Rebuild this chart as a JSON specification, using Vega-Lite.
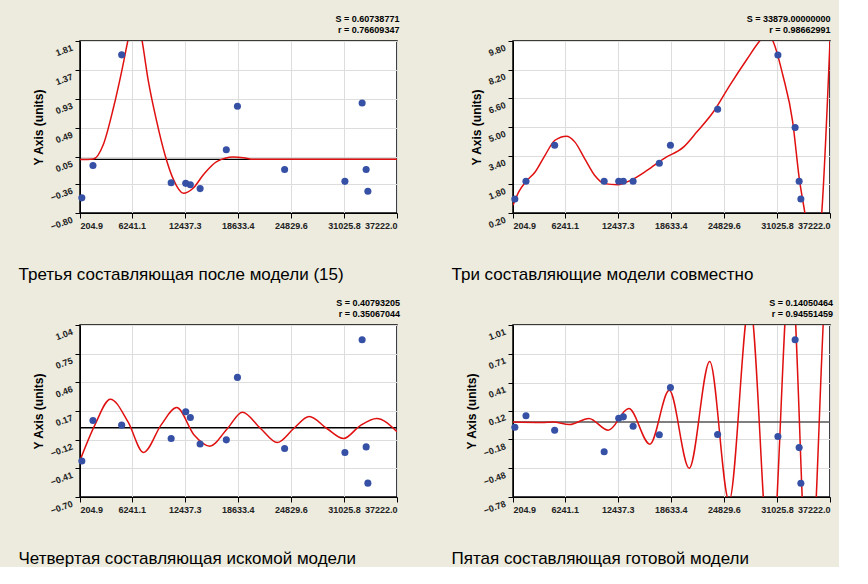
{
  "$schema": "https://vega.github.io/schema/vega-lite/v6.json",
  "background": "#ecebde",
  "padding": {"left": 17, "top": 13, "right": 5, "bottom": 0},
  "datasets": {
    "p1": [
      {"x": 420, "y": -0.57}, {"x": 1720, "y": -0.08}, {"x": 5070, "y": 1.6}, {"x": 10850, "y": -0.34},
      {"x": 12550, "y": -0.35}, {"x": 13090, "y": -0.37}, {"x": 14230, "y": -0.43}, {"x": 17290, "y": 0.16},
      {"x": 18590, "y": 0.82}, {"x": 24100, "y": -0.14}, {"x": 31140, "y": -0.32}, {"x": 33150, "y": 0.87},
      {"x": 33620, "y": -0.14}, {"x": 33820, "y": -0.47}
    ],
    "c1": [
      {"x": 205, "y": 0.01}, {"x": 1762, "y": 0.02}, {"x": 2930, "y": 0.24}, {"x": 4098, "y": 0.79},
      {"x": 5071, "y": 1.35}, {"x": 5850, "y": 1.85}, {"x": 6630, "y": 2.3}, {"x": 7409, "y": 1.85},
      {"x": 8187, "y": 1.2}, {"x": 9160, "y": 0.59}, {"x": 10134, "y": 0.08}, {"x": 11107, "y": -0.29},
      {"x": 12275, "y": -0.5}, {"x": 13443, "y": -0.42}, {"x": 14611, "y": -0.22}, {"x": 16169, "y": -0.02},
      {"x": 18115, "y": 0.05}, {"x": 19283, "y": 0.04}, {"x": 20451, "y": 0.015}, {"x": 37222, "y": 0.015}
    ],
    "p2": [
      {"x": 420, "y": 0.98}, {"x": 1720, "y": 1.97}, {"x": 5070, "y": 3.98}, {"x": 10850, "y": 1.97},
      {"x": 12550, "y": 1.97}, {"x": 13090, "y": 1.97}, {"x": 14230, "y": 1.97}, {"x": 17290, "y": 2.98},
      {"x": 18590, "y": 3.98}, {"x": 24100, "y": 5.99}, {"x": 31140, "y": 9.02}, {"x": 33150, "y": 4.97},
      {"x": 33620, "y": 1.97}, {"x": 33820, "y": 0.98}
    ],
    "c2": [
      {"x": 205, "y": 0.63}, {"x": 860, "y": 1.37}, {"x": 1747, "y": 1.97}, {"x": 2788, "y": 2.49},
      {"x": 3945, "y": 3.42}, {"x": 5102, "y": 4.26}, {"x": 6452, "y": 4.49}, {"x": 7416, "y": 4.17},
      {"x": 8573, "y": 3.24}, {"x": 9730, "y": 2.31}, {"x": 10886, "y": 1.84}, {"x": 12429, "y": 1.78},
      {"x": 13971, "y": 2.03}, {"x": 15899, "y": 2.59}, {"x": 17827, "y": 3.24}, {"x": 20141, "y": 3.89},
      {"x": 21683, "y": 4.73}, {"x": 23611, "y": 5.85}, {"x": 25539, "y": 7.34}, {"x": 27467, "y": 8.74},
      {"x": 29009, "y": 9.8}, {"x": 29780, "y": 10.2}, {"x": 30552, "y": 9.8}, {"x": 31709, "y": 7.9},
      {"x": 32865, "y": 5.29}, {"x": 33637, "y": 2.12}, {"x": 34292, "y": 0.2}, {"x": 35179, "y": -2.4},
      {"x": 35758, "y": -2.4}, {"x": 36259, "y": 0.2}, {"x": 37222, "y": 9.8}
    ],
    "p3": [
      {"x": 420, "y": -0.335}, {"x": 1720, "y": 0.074}, {"x": 5070, "y": 0.027}, {"x": 10850, "y": -0.109},
      {"x": 12550, "y": 0.162}, {"x": 13090, "y": 0.104}, {"x": 14230, "y": -0.163}, {"x": 17290, "y": -0.122},
      {"x": 18590, "y": 0.51}, {"x": 24100, "y": -0.21}, {"x": 31140, "y": -0.25}, {"x": 33150, "y": 0.89},
      {"x": 33620, "y": -0.193}, {"x": 33820, "y": -0.56}
    ],
    "c3": [
      {"x": 205, "y": -0.33}, {"x": 1946, "y": 0.03}, {"x": 3752, "y": 0.29}, {"x": 5816, "y": 0.06},
      {"x": 7621, "y": -0.25}, {"x": 9685, "y": 0.03}, {"x": 11491, "y": 0.205}, {"x": 13554, "y": -0.075},
      {"x": 15360, "y": -0.186}, {"x": 17424, "y": -0.007}, {"x": 19165, "y": 0.158}, {"x": 21293, "y": -0.007},
      {"x": 23228, "y": -0.149}, {"x": 25163, "y": -0.007}, {"x": 26968, "y": 0.114}, {"x": 29032, "y": -0.007},
      {"x": 30967, "y": -0.109}, {"x": 32902, "y": 0.02}, {"x": 34837, "y": 0.094}, {"x": 37222, "y": -0.04}
    ],
    "p4": [
      {"x": 420, "y": -0.054}, {"x": 1720, "y": 0.065}, {"x": 5070, "y": -0.085}, {"x": 10850, "y": -0.31},
      {"x": 12550, "y": 0.04}, {"x": 13090, "y": 0.054}, {"x": 14230, "y": -0.043}, {"x": 17290, "y": -0.133},
      {"x": 18590, "y": 0.36}, {"x": 24100, "y": -0.13}, {"x": 31140, "y": -0.15}, {"x": 33150, "y": 0.857},
      {"x": 33620, "y": -0.266}, {"x": 33820, "y": -0.637}
    ],
    "c4": [
      {"x": 205, "y": 0.0}, {"x": 3570, "y": -0.005}, {"x": 4864, "y": 0.0}, {"x": 6805, "y": -0.026},
      {"x": 9070, "y": 0.037}, {"x": 11335, "y": -0.085}, {"x": 13729, "y": 0.14}, {"x": 16188, "y": -0.23},
      {"x": 18453, "y": 0.33}, {"x": 20783, "y": -0.48}, {"x": 23177, "y": 0.63}, {"x": 25442, "y": -0.82},
      {"x": 27836, "y": 1.25}, {"x": 30295, "y": -1.6}, {"x": 32625, "y": 1.7}, {"x": 34760, "y": -1.9},
      {"x": 37025, "y": 1.9}, {"x": 37222, "y": 2.0}
    ]
  },
  "columns": 2,
  "spacing": {"row": 14, "column": 49},
  "concat": [
    {
      "width": 317, "height": 172,
      "title": {"text": "S = 0.60738771", "subtitle": "r = 0.76609347"},
      "encoding": {
        "x": {"field": "x", "type": "quantitative", "scale": {"domain": [204.9, 37222]},
              "axis": {"values": [204.9, 6241.1, 12437.3, 18633.4, 24829.6, 31025.8, 37222.0], "format": ".1f", "title": "Третья составляющая после модели (15)"}},
        "y": {"field": "y", "type": "quantitative", "scale": {"domain": [-0.8, 1.81], "zero": false, "nice": false},
              "axis": {"values": [-0.8, -0.36, 0.05, 0.49, 0.93, 1.37, 1.81], "format": ".2f", "title": "Y Axis (units)"}}
      },
      "layer": [
        {"data": {"values": [{"x": 204.9, "y": 0.015}, {"x": 37222, "y": 0.015}]}, "mark": {"type": "line", "color": "black", "strokeWidth": 1.2}},
        {"data": {"name": "c1"}, "mark": {"type": "line", "color": "#e01010", "strokeWidth": 1.5, "interpolate": "monotone", "clip": true}},
        {"data": {"name": "p1"}, "mark": {"type": "circle", "color": "#3550a5", "size": 50, "opacity": 1}}
      ]
    },
    {
      "width": 317, "height": 172,
      "title": {"text": "S = 33879.00000000", "subtitle": "r = 0.98662991"},
      "encoding": {
        "x": {"field": "x", "type": "quantitative", "scale": {"domain": [204.9, 37222]},
              "axis": {"values": [204.9, 6241.1, 12437.3, 18633.4, 24829.6, 31025.8, 37222.0], "format": ".1f", "title": "Три составляющие модели совместно"}},
        "y": {"field": "y", "type": "quantitative", "scale": {"domain": [0.2, 9.8], "zero": false, "nice": false},
              "axis": {"values": [0.2, 1.8, 3.4, 5.0, 6.6, 8.2, 9.8], "format": ".2f", "title": "Y Axis (units)"}}
      },
      "layer": [
        {"data": {"name": "c2"}, "mark": {"type": "line", "color": "#e01010", "strokeWidth": 1.5, "interpolate": "monotone", "clip": true}},
        {"data": {"name": "p2"}, "mark": {"type": "circle", "color": "#3550a5", "size": 50, "opacity": 1}}
      ]
    },
    {
      "width": 317, "height": 172,
      "title": {"text": "S = 0.40793205", "subtitle": "r = 0.35067044"},
      "encoding": {
        "x": {"field": "x", "type": "quantitative", "scale": {"domain": [204.9, 37222]},
              "axis": {"values": [204.9, 6241.1, 12437.3, 18633.4, 24829.6, 31025.8, 37222.0], "format": ".1f", "title": "Четвертая составляющая искомой модели"}},
        "y": {"field": "y", "type": "quantitative", "scale": {"domain": [-0.7, 1.04], "zero": false, "nice": false},
              "axis": {"values": [-0.7, -0.41, -0.12, 0.17, 0.46, 0.75, 1.04], "format": ".2f", "title": "Y Axis (units)"}}
      },
      "layer": [
        {"data": {"values": [{"x": 204.9, "y": 0.0}, {"x": 37222, "y": 0.0}]}, "mark": {"type": "line", "color": "black", "strokeWidth": 1.5}},
        {"data": {"name": "c3"}, "mark": {"type": "line", "color": "#e01010", "strokeWidth": 1.5, "interpolate": "monotone", "clip": true}},
        {"data": {"name": "p3"}, "mark": {"type": "circle", "color": "#3550a5", "size": 50, "opacity": 1}}
      ]
    },
    {
      "width": 317, "height": 172,
      "title": {"text": "S = 0.14050464", "subtitle": "r = 0.94551459"},
      "encoding": {
        "x": {"field": "x", "type": "quantitative", "scale": {"domain": [204.9, 37222]},
              "axis": {"values": [204.9, 6241.1, 12437.3, 18633.4, 24829.6, 31025.8, 37222.0], "format": ".1f", "title": "Пятая составляющая готовой модели"}},
        "y": {"field": "y", "type": "quantitative", "scale": {"domain": [-0.78, 1.01], "zero": false, "nice": false},
              "axis": {"values": [-0.78, -0.48, -0.18, 0.12, 0.41, 0.71, 1.01], "format": ".2f", "title": "Y Axis (units)"}}
      },
      "layer": [
        {"data": {"values": [{"x": 204.9, "y": 0.0}, {"x": 37222, "y": 0.0}]}, "mark": {"type": "line", "color": "#555555", "strokeWidth": 1.5}},
        {"data": {"name": "c4"}, "mark": {"type": "line", "color": "#e01010", "strokeWidth": 1.5, "interpolate": "monotone", "clip": true}},
        {"data": {"name": "p4"}, "mark": {"type": "circle", "color": "#3550a5", "size": 50, "opacity": 1}}
      ]
    }
  ],
  "config": {
    "font": "Liberation Sans",
    "view": {"fill": "white", "stroke": "black", "strokeWidth": 1.5},
    "title": {"anchor": "end", "fontSize": 9, "fontWeight": "bold", "subtitleFontSize": 9, "subtitleFontWeight": "bold", "subtitlePadding": 2, "offset": 6, "subtitleColor": "black"},
    "axis": {"labelFontSize": 9, "labelFontWeight": "bold", "labelColor": "#222", "gridColor": "#dddddd", "tickColor": "black", "domainColor": "black", "labelOverlap": false, "labelPadding": 3},
    "axisX": {"titleFontSize": 17, "titleFontWeight": "normal", "titleAnchor": "start", "titleAlign": "left", "titleX": -62, "titlePadding": 36, "titleColor": "black"},
    "axisY": {"labelAngle": -20, "labelOffset": 6, "titleFontSize": 12, "titleFontWeight": "bold", "titlePadding": 4}
  }
}
